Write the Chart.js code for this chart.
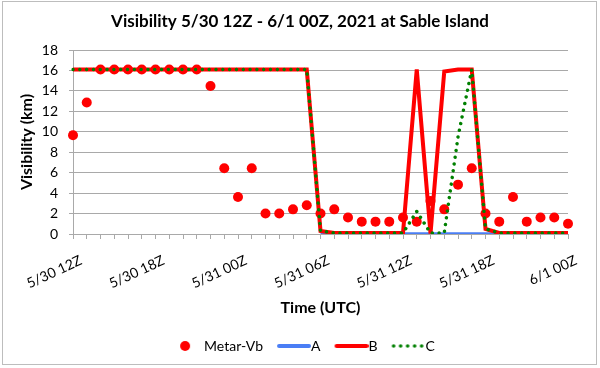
<!DOCTYPE html>
<html lang="en">
<head>
    <meta charset="UTF-8">
    <title>Visibility at Sable Island</title>
    <script src="https://cdn.jsdelivr.net/npm/chart.js"></script>
    <style>
        body {
            margin: 0;
            background: #fff;
        }
        canvas {
            display: block;
        }
    </style>
</head>
<body>
    <canvas id="visChart" width="600" height="368"></canvas>

    <script>
        // hourly categories, 5/30 12Z .. 6/1 00Z
        const hours = [
            '5/30 12Z', '5/30 13Z', '5/30 14Z', '5/30 15Z', '5/30 16Z', '5/30 17Z',
            '5/30 18Z', '5/30 19Z', '5/30 20Z', '5/30 21Z', '5/30 22Z', '5/30 23Z',
            '5/31 00Z', '5/31 01Z', '5/31 02Z', '5/31 03Z', '5/31 04Z', '5/31 05Z',
            '5/31 06Z', '5/31 07Z', '5/31 08Z', '5/31 09Z', '5/31 10Z', '5/31 11Z',
            '5/31 12Z', '5/31 13Z', '5/31 14Z', '5/31 15Z', '5/31 16Z', '5/31 17Z',
            '5/31 18Z', '5/31 19Z', '5/31 20Z', '5/31 21Z', '5/31 22Z', '5/31 23Z',
            '6/1 00Z'
        ];
        const tickLabels = ['5/30 12Z', '5/30 18Z', '5/31 00Z', '5/31 06Z', '5/31 12Z', '5/31 18Z', '6/1 00Z'];
        const yTicks = [0, 2, 4, 6, 8, 10, 12, 14, 16, 18];

        const metarVb = [
            9.66, 12.87, 16.09, 16.09, 16.09, 16.09, 16.09, 16.09, 16.09, 16.09,
            14.48, 6.44, 3.62, 6.44, 2.01, 2.01, 2.41, 2.82, 2.01, 2.41,
            1.61, 1.21, 1.21, 1.21, 1.61, 1.21, 3.22, 2.41, 4.83, 6.44,
            2.01, 1.21, 3.62, 1.21, 1.61, 1.61, 1.0
        ];
        // A only starts once the fog sets in
        const seriesA = [
            null, null, null, null, null, null, null, null, null, null,
            null, null, null, null, null, null, null, null, 0, 0,
            0, 0, 0, 0, 0, 0, 0, 0, 0, 0,
            0, 0, 0, 0, 0, 0, 0
        ];
        const seriesB = [
            16.09, 16.09, 16.09, 16.09, 16.09, 16.09, 16.09, 16.09, 16.09, 16.09,
            16.09, 16.09, 16.09, 16.09, 16.09, 16.09, 16.09, 16.09, 0.3, 0.1,
            0.1, 0.1, 0.1, 0.1, 0.1, 16.09, 0.05, 15.9, 16.09, 16.09,
            0.5, 0.1, 0.1, 0.1, 0.1, 0.1, 0.1
        ];
        const seriesC = [
            16.09, 16.09, 16.09, 16.09, 16.09, 16.09, 16.09, 16.09, 16.09, 16.09,
            16.09, 16.09, 16.09, 16.09, 16.09, 16.09, 16.09, 16.09, 0.3, 0.1,
            0.1, 0.1, 0.1, 0.1, 0.1, 2.2, 0.1, 0.1, 9.5, 16.09,
            0.5, 0.1, 0.1, 0.1, 0.1, 0.1, 0.1
        ];

        const FONT = 'Lato';
        const GRID = '#a9a9a9';

        // small pictures used as legend symbols
        function legendImg(kind, color) {
            const c = document.createElement('canvas');
            c.width = 46;
            c.height = 12;
            const g = c.getContext('2d');
            g.fillStyle = color;
            g.strokeStyle = color;
            if (kind === 'dot') {
                g.beginPath();
                g.arc(27, 6, 5, 0, Math.PI * 2);
                g.fill();
            } else if (kind === 'line') {
                g.lineWidth = 4;
                g.lineCap = 'round';
                g.beginPath();
                g.moveTo(14, 6);
                g.lineTo(44, 6);
                g.stroke();
            } else {
                for (let px = 14; px <= 43; px += 7) {
                    g.beginPath();
                    g.arc(px, 6, 1.8, 0, Math.PI * 2);
                    g.fill();
                }
            }
            return c;
        }
        const legendImgs = [
            legendImg('dot', '#ff0000'),
            legendImg('line', '#4a7ef5'),
            legendImg('line', '#ff0000'),
            legendImg('dots', '#008000')
        ];

        // grey frame round the whole chart
        const framePlugin = {
            id: 'frame',
            beforeDraw(chart) {
                const ctx = chart.ctx;
                ctx.save();
                ctx.fillStyle = '#fff';
                ctx.fillRect(0, 0, chart.width, chart.height);
                ctx.restore();
            },
            afterDraw(chart) {
                const ctx = chart.ctx;
                ctx.save();
                ctx.strokeStyle = '#bdbdbd';
                ctx.lineWidth = 1;
                ctx.strokeRect(2.5, 1.5, 594, 363);
                ctx.restore();
            }
        };

        const ctx = document.getElementById('visChart').getContext('2d');

        new Chart(ctx, {
            type: 'line',
            data: {
                labels: hours,
                datasets: [
                    {
                        label: 'Metar-Vb',
                        data: metarVb,
                        showLine: false,
                        pointRadius: 5,
                        pointBorderWidth: 0,
                        pointBackgroundColor: '#ff0000',
                        borderColor: '#ff0000',
                        order: 4
                    },
                    {
                        label: 'A',
                        data: seriesA,
                        borderColor: '#4a7ef5',
                        borderWidth: 3.5,
                        pointRadius: 0,
                        tension: 0,
                        order: 3
                    },
                    {
                        label: 'B',
                        data: seriesB,
                        borderColor: '#ff0000',
                        borderWidth: 4,
                        pointRadius: 0,
                        tension: 0,
                        order: 2
                    },
                    {
                        label: 'C',
                        data: seriesC,
                        borderColor: '#008000',
                        borderWidth: 3.5,
                        borderDash: [0.01, 6.8],
                        borderCapStyle: 'round',
                        pointRadius: 0,
                        tension: 0,
                        order: 1
                    }
                ]
            },
            options: {
                responsive: false,
                animation: false,
                layout: {
                    padding: { left: 0, right: 0, top: 0, bottom: 5 }
                },
                plugins: {
                    title: {
                        display: true,
                        text: 'Visibility 5/30 12Z - 6/1 00Z, 2021 at Sable Island',
                        color: '#000',
                        font: { family: FONT, size: 17, weight: 'bold' },
                        padding: { top: 11, bottom: 18.6 }
                    },
                    legend: {
                        position: 'bottom',
                        labels: {
                            usePointStyle: true,
                            pointStyleWidth: 32,
                            padding: 9,
                            color: '#000',
                            font: { family: FONT, size: 14 },
                            generateLabels: (chart) => chart.data.datasets.map((ds, i) => ({
                                text: ds.label,
                                pointStyle: legendImgs[i],
                                fillStyle: 'rgba(0,0,0,0)',
                                strokeStyle: 'rgba(0,0,0,0)',
                                lineWidth: 0,
                                hidden: false,
                                datasetIndex: i,
                                fontColor: '#000'
                            }))
                        }
                    },
                    tooltip: { enabled: false }
                },
                scales: {
                    x: {
                        offset: false,
                        afterFit: (scale) => { scale.height = 96; },
                        grid: {
                            drawOnChartArea: false,
                            drawTicks: true,
                            tickLength: 5,
                            color: GRID
                        },
                        border: { color: GRID },
                        ticks: {
                            autoSkip: false,
                            maxRotation: 25,
                            minRotation: 25,
                            padding: 13,
                            labelOffset: 8,
                            color: '#000',
                            font: { family: FONT, size: 14 },
                            callback: (value, index) => index % 6 === 0 ? tickLabels[index / 6] : ''
                        },
                        title: {
                            display: true,
                            text: 'Time (UTC)',
                            color: '#000',
                            font: { family: FONT, size: 16, weight: 'bold' },
                            padding: { top: 0, bottom: 12.4 }
                        }
                    },
                    y: {
                        min: yTicks[0],
                        max: yTicks[yTicks.length - 1],
                        afterFit: (scale) => { scale.width = 73; },
                        afterBuildTicks: (scale) => {
                            scale.ticks = yTicks.map(v => ({ value: v }));
                        },
                        grid: {
                            color: GRID,
                            tickLength: 4
                        },
                        border: { color: GRID },
                        ticks: {
                            padding: 11,
                            color: '#000',
                            font: { family: FONT, size: 14 }
                        },
                        title: {
                            display: true,
                            text: 'Visibility (km)',
                            color: '#000',
                            font: { family: FONT, size: 16, weight: 'bold' },
                            padding: { top: 17, bottom: 0 }
                        }
                    },
                    // empty right-hand box so the plot stops where the original does
                    yRight: {
                        position: 'right',
                        display: true,
                        afterFit: (scale) => { scale.width = 32; },
                        grid: { display: false },
                        border: { display: false },
                        ticks: { display: false }
                    }
                }
            },
            plugins: [framePlugin]
        });
    </script>
</body>
</html>
